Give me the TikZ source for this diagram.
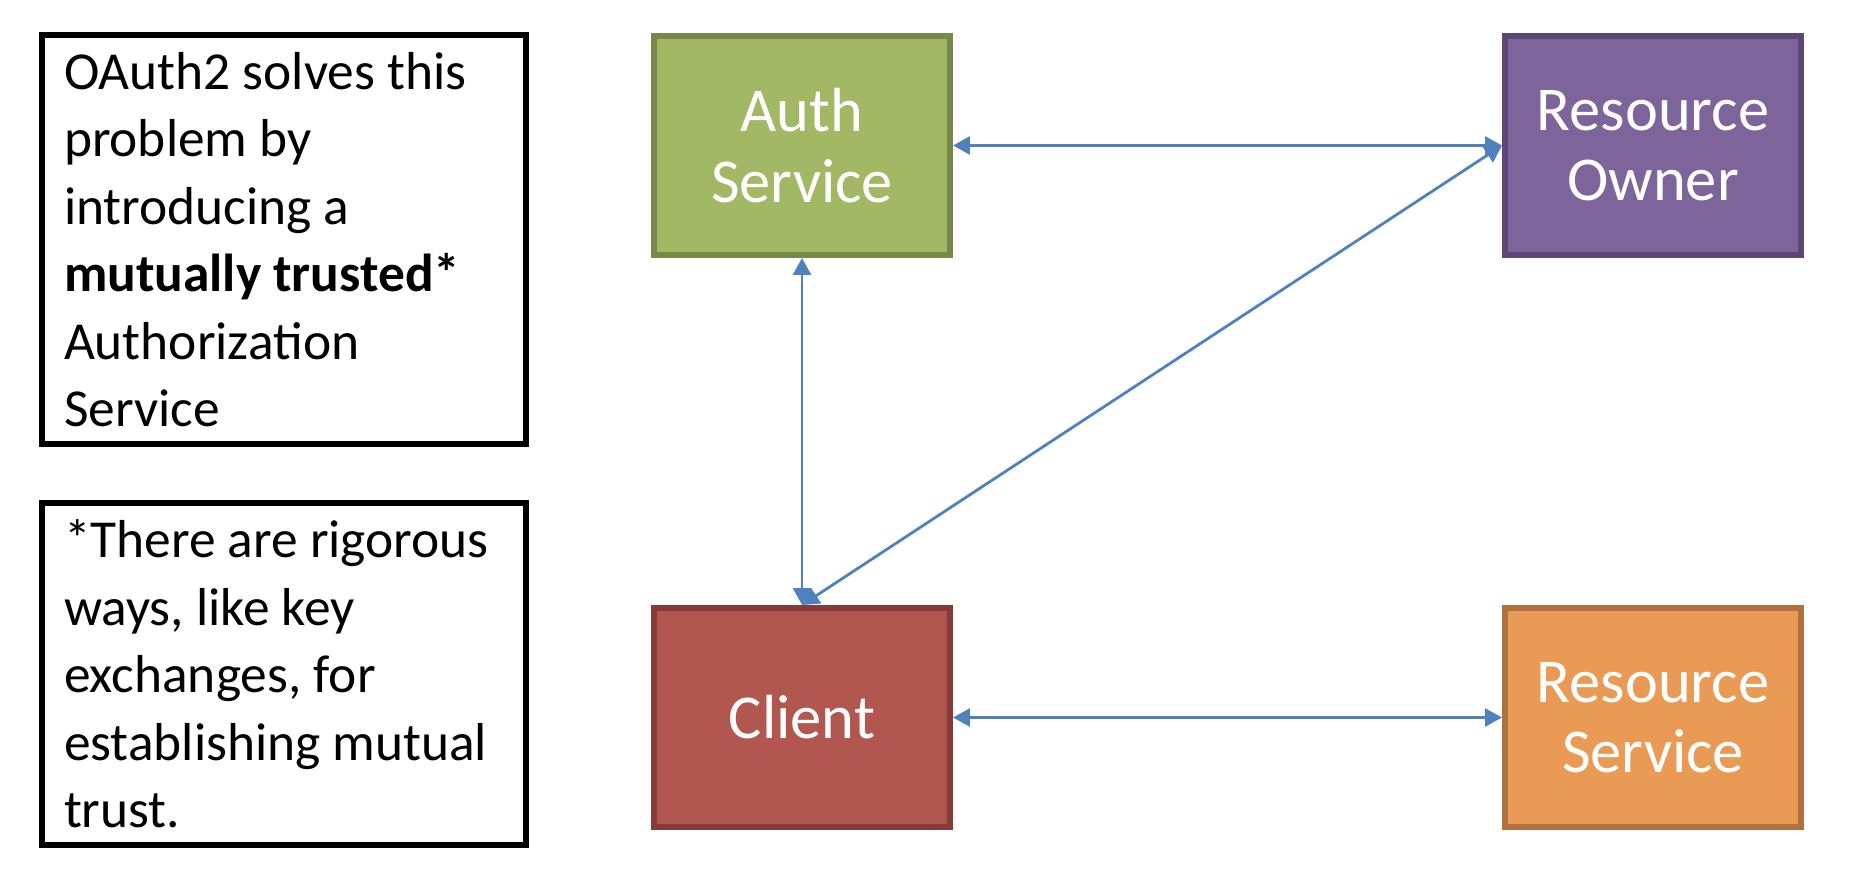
\documentclass[tikz,border=0pt]{standalone}
\usepackage{fontspec}
\setmainfont{Carlito}
\usetikzlibrary{arrows.meta,positioning}
\usepackage{xcolor}
\definecolor{authfill}{HTML}{A2B865}
\definecolor{authdraw}{HTML}{77894A}
\definecolor{ownerfill}{HTML}{7D649A}
\definecolor{ownerdraw}{HTML}{5C4776}
\definecolor{clientfill}{HTML}{B15750}
\definecolor{clientdraw}{HTML}{873B39}
\definecolor{resfill}{HTML}{E99B56}
\definecolor{resdraw}{HTML}{B0713E}
\definecolor{flowblue}{HTML}{4F81BD}
\tikzset{
  service box/.style={draw,line width=3.4pt,minimum width=5.92cm,minimum height=4.38cm,
    text=white,align=center,font=\fontsize{35.5}{40}\selectfont},
  note box/.style={draw=black,line width=3.4pt,inner xsep=0.44cm,text width=8.8cm,
    align=flush left,font=\fontsize{30.4}{38.4}\selectfont},
  flow edge/.style={draw=flowblue,line width=1.6pt,
    {Triangle[length=0.34cm,width=0.36cm]}-{Triangle[length=0.34cm,width=0.36cm]}}
}

\begin{document}
\begin{tikzpicture}[line join=miter]
  \useasboundingbox (0,0) rectangle (37.12,17.52);

  % notes on the left
  \node[note box,minimum height=8.18cm] (why) at (5.68,12.73)
    {OAuth2 solves this\\problem by\\introducing a\\\textbf{mutually trusted*}\\Authorization\\Service};
  \node[note box,minimum height=6.84cm] (foot) at (5.68,4.04)
    {*There are rigorous\\ways, like key\\exchanges, for\\establishing mutual\\trust.};

  % parties
  \node[service box,fill=authfill,draw=authdraw] (auth) at (16.04,14.61) {Auth\\Service};
  \node[service box,fill=ownerfill,draw=ownerdraw] (owner) at (33.06,14.61) {Resource\\Owner};
  \node[service box,fill=clientfill,draw=clientdraw] (client) at (16.04,3.17) {Client};
  \node[service box,fill=resfill,draw=resdraw] (res) at (33.06,3.17) {Resource\\Service};

  \draw[flow edge] (auth.east) -- (owner.west);
  \draw[flow edge] (auth.south) -- (client.north);
  \draw[flow edge] (client.north) -- (owner.west);
  \draw[flow edge] (client.east) -- (res.west);
\end{tikzpicture}
\end{document}
